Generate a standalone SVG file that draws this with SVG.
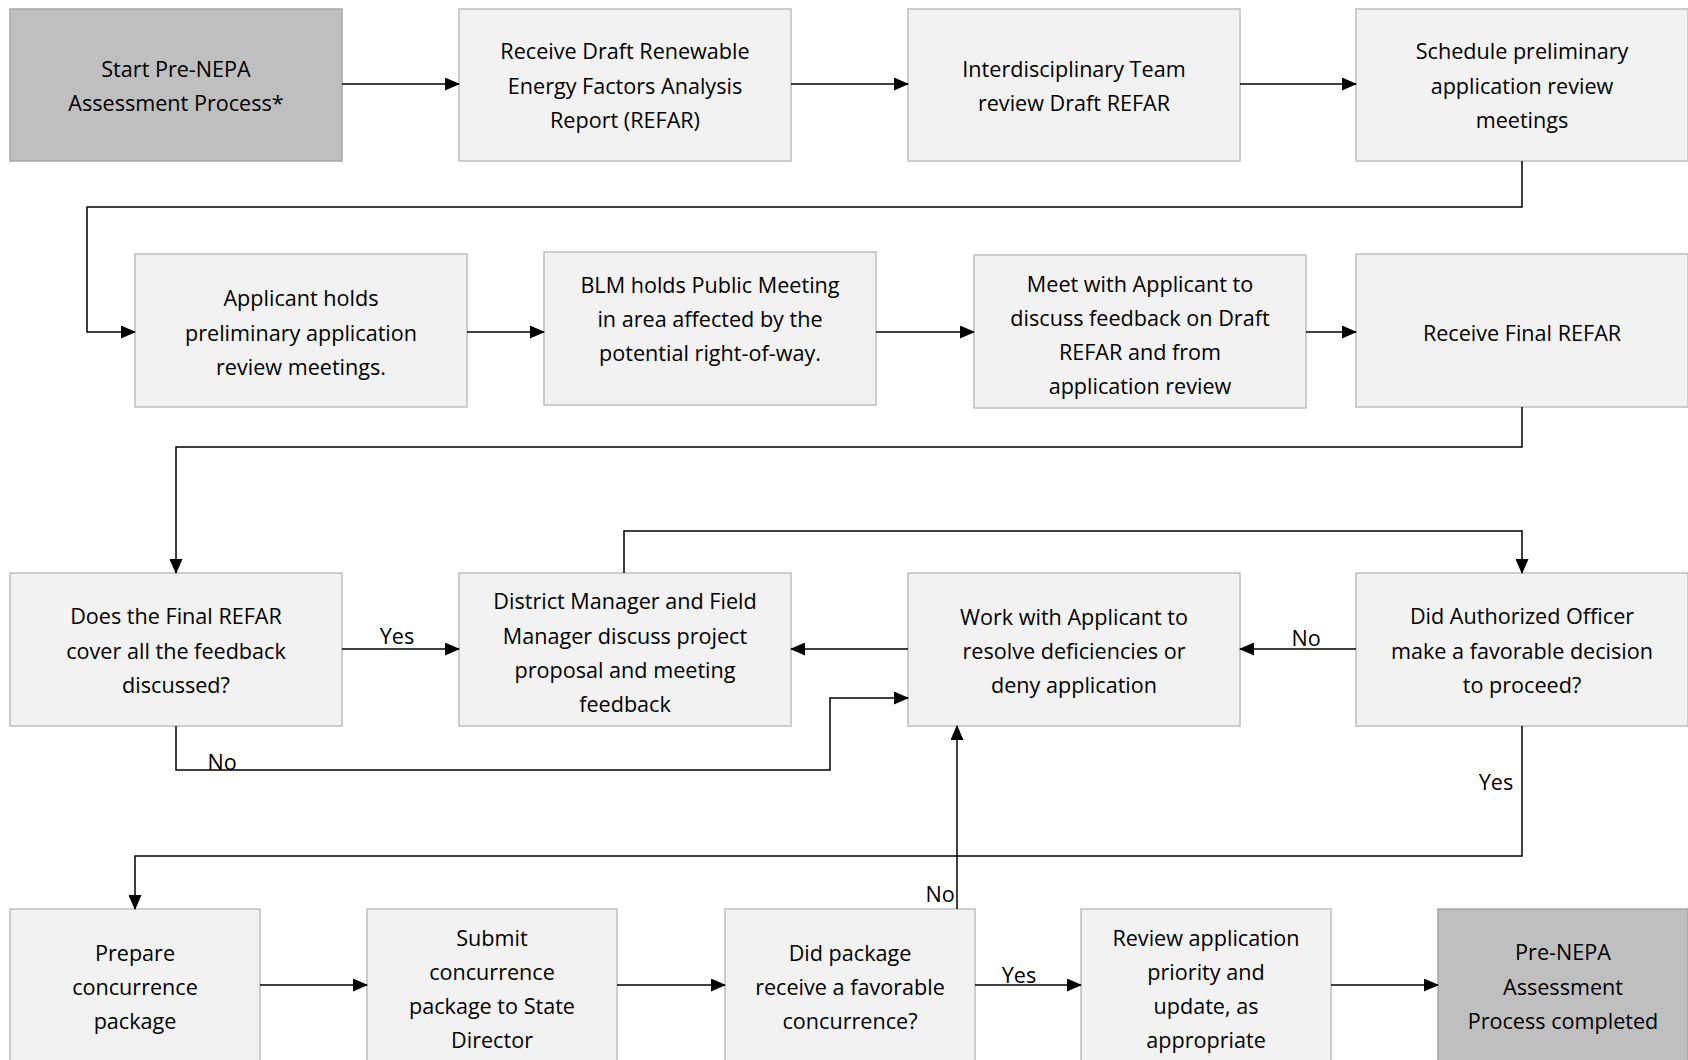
<svg xmlns="http://www.w3.org/2000/svg" width="1688" height="1060" viewBox="0 0 1688 1060">
<style>
.b{fill:#f2f2f2;stroke:#bfbfbf;stroke-width:1.5}
.d{fill:#bfbfbf;stroke:#a6a6a6;stroke-width:1.5}
text{font-family:"Open Sans","Liberation Sans",sans-serif;font-size:21.6px;fill:#000;text-anchor:middle;dominant-baseline:central}
.c path{fill:none;stroke:#000;stroke-width:1.5}
</style>
<defs>
<marker id="a" markerUnits="userSpaceOnUse" markerWidth="15" markerHeight="13" refX="14" refY="6.5" orient="auto">
<path d="M0,0 L15,6.5 L0,13 Z" fill="#000"/>
</marker>
</defs>
<g id="n1"><rect class="d" x="10" y="9" width="332" height="152"/><text x="176" y="68">Start Pre-NEPA</text><text x="176" y="102">Assessment Process*</text></g>
<g id="n2"><rect class="b" x="459" y="9" width="332" height="152"/><text x="625" y="50">Receive Draft Renewable</text><text x="625" y="85">Energy Factors Analysis</text><text x="625" y="119">Report (REFAR)</text></g>
<g id="n3"><rect class="b" x="908" y="9" width="332" height="152"/><text x="1074" y="68">Interdisciplinary Team</text><text x="1074" y="102">review Draft REFAR</text></g>
<g id="n4"><rect class="b" x="1356" y="9" width="332" height="152"/><text x="1522" y="50">Schedule preliminary</text><text x="1522" y="85">application review</text><text x="1522" y="119">meetings</text></g>
<g id="n5"><rect class="b" x="135" y="254" width="332" height="153"/><text x="301" y="297">Applicant holds</text><text x="301" y="332">preliminary application</text><text x="301" y="366">review meetings.</text></g>
<g id="n6"><rect class="b" x="544" y="252" width="332" height="153"/><text x="710" y="284">BLM holds Public Meeting</text><text x="710" y="318">in area affected by the</text><text x="710" y="352">potential right-of-way.</text></g>
<g id="n7"><rect class="b" x="974" y="255" width="332" height="153"/><text x="1140" y="283">Meet with Applicant to</text><text x="1140" y="317">discuss feedback on Draft</text><text x="1140" y="351">REFAR and from</text><text x="1140" y="385">application review</text></g>
<g id="n8"><rect class="b" x="1356" y="254" width="332" height="153"/><text x="1522" y="332">Receive Final REFAR</text></g>
<g id="n9"><rect class="b" x="10" y="573" width="332" height="153"/><text x="176" y="615">Does the Final REFAR</text><text x="176" y="650">cover all the feedback</text><text x="176" y="684">discussed?</text></g>
<g id="n10"><rect class="b" x="459" y="573" width="332" height="153"/><text x="625" y="600">District Manager and Field</text><text x="625" y="635">Manager discuss project</text><text x="625" y="669">proposal and meeting</text><text x="625" y="703">feedback</text></g>
<g id="n11"><rect class="b" x="908" y="573" width="332" height="153"/><text x="1074" y="616">Work with Applicant to</text><text x="1074" y="650">resolve deficiencies or</text><text x="1074" y="684">deny application</text></g>
<g id="n12"><rect class="b" x="1356" y="573" width="332" height="153"/><text x="1522" y="615">Did Authorized Officer</text><text x="1522" y="650">make a favorable decision</text><text x="1522" y="684">to proceed?</text></g>
<g id="n13"><rect class="b" x="10" y="909" width="250" height="155"/><text x="135" y="952">Prepare</text><text x="135" y="986">concurrence</text><text x="135" y="1020">package</text></g>
<g id="n14"><rect class="b" x="367" y="909" width="250" height="155"/><text x="492" y="937">Submit</text><text x="492" y="971">concurrence</text><text x="492" y="1005">package to State</text><text x="492" y="1039">Director</text></g>
<g id="n15"><rect class="b" x="725" y="909" width="250" height="155"/><text x="850" y="952">Did package</text><text x="850" y="986">receive a favorable</text><text x="850" y="1020">concurrence?</text></g>
<g id="n16"><rect class="b" x="1081" y="909" width="250" height="155"/><text x="1206" y="937">Review application</text><text x="1206" y="971">priority and</text><text x="1206" y="1005">update, as</text><text x="1206" y="1039">appropriate</text></g>
<g id="n17"><rect class="d" x="1438" y="909" width="250" height="155"/><text x="1563" y="951">Pre-NEPA</text><text x="1563" y="986">Assessment</text><text x="1563" y="1020">Process completed</text></g>
<g id="connectors" class="c">
<path d="M342,84 H459" marker-end="url(#a)"/>
<path d="M791,84 H908" marker-end="url(#a)"/>
<path d="M1240,84 H1356" marker-end="url(#a)"/>
<path d="M1522,161 V207 H87 V332 H135" marker-end="url(#a)"/>
<path d="M467,332 H544" marker-end="url(#a)"/>
<path d="M876,332 H974" marker-end="url(#a)"/>
<path d="M1306,332 H1356" marker-end="url(#a)"/>
<path d="M1522,407 V447 H176 V573" marker-end="url(#a)"/>
<path d="M342,649 H459" marker-end="url(#a)"/>
<path d="M624,573 V531 H1522 V573" marker-end="url(#a)"/>
<path d="M908,649 H791" marker-end="url(#a)"/>
<path d="M1356,649 H1240" marker-end="url(#a)"/>
<path d="M176,726 V770 H830 V698 H908" marker-end="url(#a)"/>
<path d="M1522,726 V856 H135 V909" marker-end="url(#a)"/>
<path d="M260,985 H367" marker-end="url(#a)"/>
<path d="M617,985 H725" marker-end="url(#a)"/>
<path d="M975,985 H1081" marker-end="url(#a)"/>
<path d="M1331,985 H1438" marker-end="url(#a)"/>
<path d="M957,909 V726" marker-end="url(#a)"/>
<text x="397" y="635">Yes</text>
<text x="1306" y="637">No</text>
<text x="222" y="761">No</text>
<text x="1496" y="781">Yes</text>
<text x="1019" y="974">Yes</text>
<text x="940" y="893">No</text>
</g>
</svg>
